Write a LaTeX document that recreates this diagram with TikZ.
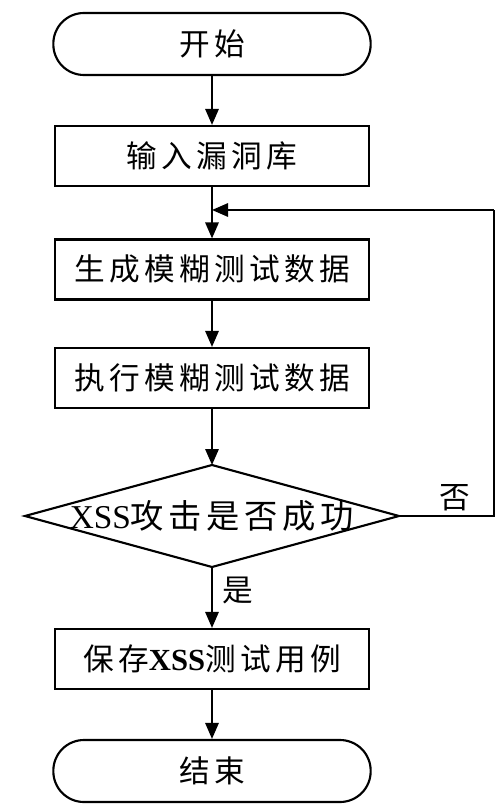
\documentclass[tikz,border=0pt]{standalone}
\usepackage{fontspec}
\setmainfont{Liberation Serif}
\newfontfamily\cjk{Noto Sans CJK SC}[LetterSpace=14]
\usetikzlibrary{arrows.meta}
\begin{document}
\begin{tikzpicture}[x=0.75pt,y=-0.75pt,
  every node/.style={font=\fontsize{23pt}{27pt}\selectfont},
  procbox/.style={draw,line width=1.6pt,minimum width=236pt,minimum height=45pt,inner sep=0pt},
  termbox/.style={draw,line width=1.6pt,minimum width=238pt,minimum height=46.5pt,inner sep=0pt,rounded corners=23pt},
  flow/.style={line width=1.5pt,-{Triangle[length=12pt,width=10pt]}},
  plain/.style={line width=1.5pt}]
\useasboundingbox (0,0) rectangle (496,805);
\node[termbox] (start) at (212,44) {\cjk 开始};
\node[procbox] (input) at (212,156) {\cjk 输入漏洞库};
\node[procbox] (gen) at (212,269.5) {\cjk 生成模糊测试数据};
\node[procbox] (exec) at (212,378) {\cjk 执行模糊测试数据};
\coordinate (dt) at (212,465);
\coordinate (db) at (212,567);
\coordinate (dl) at (25,516);
\coordinate (dr) at (399,516);
\draw[line width=1.6pt] (dt) -- (dr) -- (db) -- (dl) -- cycle;
\node (dec) at (212,516) {\fontsize{25pt}{28pt}\selectfont XSS{\cjk 攻击是否成功}};
\node[procbox] (save) at (212,659) {{\cjk 保存}{\bfseries XSS}{\cjk 测试用例}};
\node[termbox] (end) at (212,771) {\cjk 结束};
\coordinate (loopR) at (494,516);
\coordinate (loopT) at (494,210);
\coordinate (join) at (212,210);
\draw[flow] (start) -- (input);
\draw[plain] (input) -- (join);
\draw[flow] (join) -- (gen);
\draw[flow] (gen) -- (exec);
\draw[flow] (exec) -- (dt);
\draw[flow] (db) -- (save);
\draw[flow] (save) -- (end);
\draw[plain] (dr) -- (loopR) -- (loopT);
\draw[flow] (loopT) -- (join);
\node (no) at (455,498) {\cjk 否};
\node (yes) at (238,590) {\cjk 是};
\end{tikzpicture}
\end{document}
